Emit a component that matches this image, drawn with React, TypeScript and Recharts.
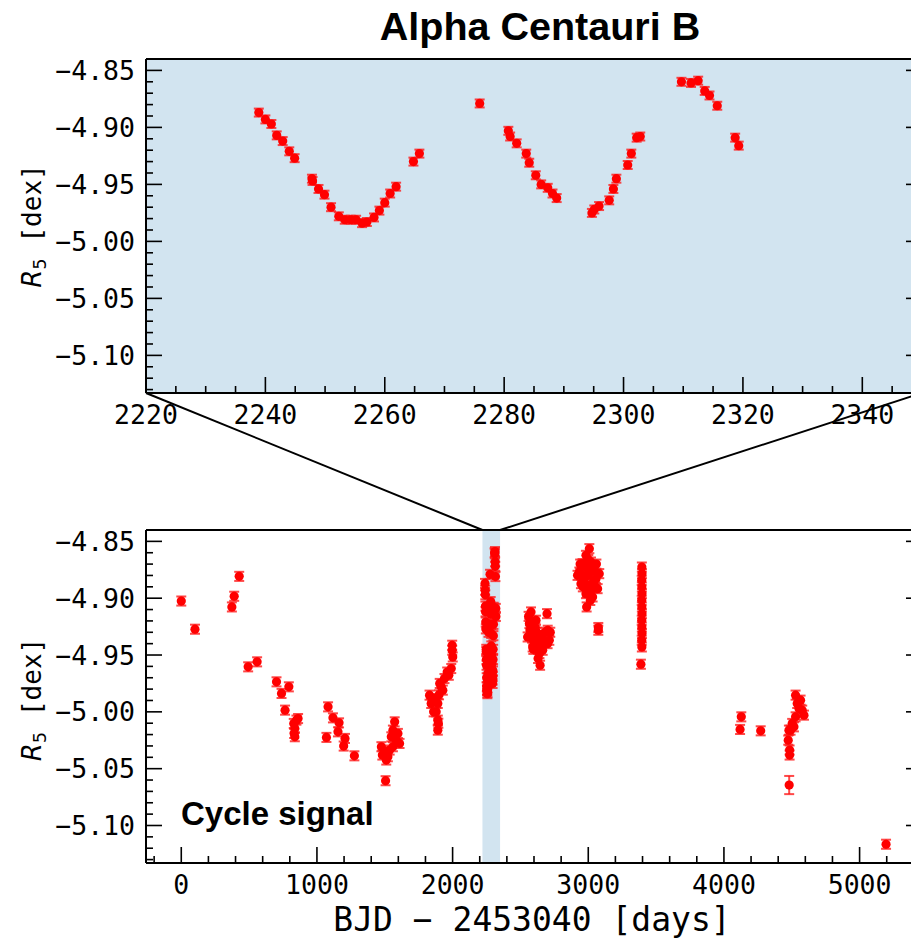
import {
  ErrorBar,
  ReferenceArea,
  ReferenceLine,
  Scatter,
  ScatterChart,
  XAxis,
  YAxis,
} from "recharts";

// Rotation season, zoomed in (BJD - 2453040, R5 index)
const ROT_T = [
  2238.9, 2240.0, 2241.0, 2241.9, 2242.9, 2244.0, 2244.9, 2247.8, 2247.9, 2248.9,
  2249.9, 2251.0, 2252.3, 2253.3, 2254.3, 2255.2, 2256.2, 2257.0, 2258.2, 2259.1,
  2260.0, 2260.9, 2261.9, 2264.8, 2265.8, 2275.9, 2280.7, 2281.0, 2282.1, 2283.7,
  2284.2, 2285.3, 2286.2, 2287.3, 2288.1, 2288.8, 2294.7, 2295.1, 2295.9, 2297.6,
  2298.3, 2298.8, 2300.7, 2301.3, 2302.2, 2302.8, 2309.7, 2311.3, 2312.5, 2313.6,
  2314.4, 2315.7, 2318.7, 2319.3,
];
const ROT_R = [
  -4.887, -4.893, -4.897, -4.907, -4.912, -4.921, -4.927, -4.945, -4.947, -4.954,
  -4.959, -4.970, -4.978, -4.981, -4.981, -4.981, -4.984, -4.983, -4.979, -4.973,
  -4.966, -4.958, -4.952, -4.930, -4.923, -4.879, -4.903, -4.908, -4.914, -4.923,
  -4.931, -4.942, -4.950, -4.953, -4.958, -4.962, -4.975, -4.972, -4.969, -4.964,
  -4.954, -4.945, -4.933, -4.923, -4.909, -4.908, -4.860, -4.861, -4.859, -4.868,
  -4.872, -4.881, -4.909, -4.916,
];
const ROT_ERR = 0.0035;

// Long-term series: [t, R5, sigma?]
const CYCLE_EARLY: number[][] = [
  [0, -4.9025], [101, -4.9273], [373, -4.9077], [390, -4.8983], [427, -4.8808],
  [493, -4.9604], [559, -4.956], [702, -4.9736], [739, -4.9838], [793, -4.978],
  [765, -4.9985], [829, -5.0102], [837, -5.0146], [832, -5.019], [837, -5.0219],
  [849, -5.0073], [861, -5.0059], [1082, -4.9956], [1070, -5.0225], [1118, -5.0053],
  [1163, -5.0097], [1155, -5.0176], [1207, -5.0234], [1197, -5.0301], [1276, -5.0387],
];
const CYCLE_MID: number[][] = [
  [1475, -5.0307], [1499, -5.0351], [1523, -5.0395], [1511, -5.0424], [1482, -5.038],
  [1536, -5.0336], [1560, -5.0307], [1506, -5.0606], [1573, -5.0088], [1560, -5.0161],
  [1597, -5.019], [1585, -5.0249], [1609, -5.0278], [1548, -5.022],
  [1830, -4.9853], [1842, -4.9926], [1850, -4.99], [1860, -5.0], [1867, -4.9883],
  [1879, -5.0], [1891, -4.9926], [1891, -5.0073], [1891, -5.0161], [1895, -5.01],
  [1900, -4.985], [1905, -4.975], [1916, -4.978], [1928, -4.9809], [1940, -4.9707],
  [1960, -4.965], [1972, -4.9678], [1990, -4.9619], [1997, -4.9458], [1997, -4.9414],
  [2001, -4.9517],
];
const CYCLE_PEAK: number[][] = [
  [2553, -4.9341], [2560, -4.916], [2566, -4.9223], [2570, -4.928], [2578, -4.9121],
  [2585, -4.935], [2590, -4.9429], [2595, -4.945], [2600, -4.938], [2603, -4.9282],
  [2610, -4.926], [2615, -4.9194], [2620, -4.93], [2625, -4.933], [2627, -4.9399],
  [2630, -4.953], [2635, -4.945], [2640, -4.9487], [2645, -4.959], [2650, -4.933],
  [2655, -4.94], [2664, -4.9458], [2676, -4.937], [2680, -4.93], [2696, -4.9136],
  [2700, -4.94], [2701, -4.9282], [2713, -4.937], [2720, -4.93],
  [2921, -4.8799], [2934, -4.877], [2940, -4.87], [2946, -4.8872], [2950, -4.88],
  [2958, -4.8696], [2960, -4.89], [2965, -4.885], [2971, -4.8814], [2975, -4.872],
  [2983, -4.8623], [2983, -4.896], [2988, -4.9077], [2990, -4.895], [2995, -4.874],
  [3000, -4.866], [3000, -4.88], [3008, -4.8564], [3008, -4.8887], [3015, -4.902],
  [3020, -4.8682], [3020, -4.893], [3025, -4.876], [3032, -4.8989], [3040, -4.885],
  [3045, -4.8755], [3050, -4.89], [3057, -4.8828], [3060, -4.87], [3069, -4.8916],
  [3074, -4.9258], [3074, -4.9282], [3081, -4.8784],
  [3395, -4.8726], [3396, -4.8784], [3394, -4.8843], [3395, -4.8901], [3396, -4.896],
  [3394, -4.9019], [3395, -4.9077], [3396, -4.9136], [3394, -4.9194], [3395, -4.9253],
  [3396, -4.9311], [3394, -4.937], [3395, -4.9429], [3388, -4.9581],
];
const CYCLE_LATE: number[][] = [
  [4119, -5.0155], [4128, -5.0044], [4271, -5.0167], [4474, -5.0249], [4479, -5.0161],
  [4481, -5.0644, 0.008], [4484, -5.0336], [4484, -5.038], [4491, -5.0161], [4503, -5.0102],
  [4516, -5.0132], [4528, -5.0044], [4528, -4.9853], [4540, -4.9926], [4553, -4.997],
  [4565, -4.9897], [4577, -4.9985], [4590, -5.0029], [5195, -5.1165],
];
const CYCLE_ERR = 0.004;

const ROT_DOMAIN = [2220, 2350];
const CYCLE_DOMAIN = [-260, 5460];
const Y_DOMAIN = [-5.133, -4.84];

const ROT_MAJOR = [2220, 2240, 2260, 2280, 2300, 2320, 2340];
const CYCLE_MAJOR = [0, 1000, 2000, 3000, 4000, 5000];
const Y_MAJOR = [-5.1, -5.05, -5.0, -4.95, -4.9, -4.85];

// layout (px); each frame axis takes 1px of margin, so margins are trimmed by 1
const CHART_W = 942;
const PLOT_LEFT = 146;
const PLOT_W = 776;
const TOP_Y = 59;
const TOP_H = 334;
const BOT_Y = 530;
const BOT_H = 333;
const MAJOR_LEN = 16;
const MINOR_LEN = 7;
const TICK_FONT = 26.5;

const RED = "#ff0000";
const SHADE = "#d2e4f0";
const MONO = "'DejaVu Sans Mono', monospace";
const SANS = "'Liberation Sans', Arial, Helvetica, sans-serif";

function steps(from: number, to: number, step: number) {
  const out: number[] = [];
  for (let v = from; v <= to + 1e-9; v += step) out.push(Math.round(v * 1000) / 1000);
  return out;
}

const rotTicks = steps(2220, 2350, 5);
const cycleTicks = steps(-200, 5400, 200);
const yTicks = steps(-5.13, -4.84, 0.01);

const isMajor = (v: number, majors: number[]) => majors.some((m) => Math.abs(m - v) < 1e-6);
const fmtY = (v: number) => `\u2212${Math.abs(v).toFixed(2)}`;

type Side = "bottom" | "top" | "left" | "right";

function tickRenderer(side: Side, majors: number[], fmt?: (v: number) => string) {
  return (props: any) => {
    const { x, y, payload } = props;
    const v = payload.value as number;
    const major = isMajor(v, majors);
    const len = major ? MAJOR_LEN : MINOR_LEN;
    let x2 = x;
    let y2 = y;
    if (side === "bottom") y2 = y - len;
    if (side === "top") y2 = y + len;
    if (side === "left") x2 = x + len;
    if (side === "right") x2 = x - len;
    return (
      <g>
        <line x1={x} y1={y} x2={x2} y2={y2} stroke="#000" strokeWidth={1.6} />
        {fmt && major && side === "bottom" && (
          <text x={x} y={y + 31} textAnchor="middle" fontFamily={MONO} fontSize={TICK_FONT} fill="#000">
            {fmt(v)}
          </text>
        )}
        {fmt && major && side === "left" && (
          <text x={x - 11} y={y} dy="0.36em" textAnchor="end" fontFamily={MONO} fontSize={TICK_FONT} fill="#000">
            {fmt(v)}
          </text>
        )}
      </g>
    );
  };
}

const dot = (p: any) => <circle cx={p.cx} cy={p.cy} r={4.6} fill={RED} />;

function YLabel({ cy }: { cy: number }) {
  return (
    <text transform={`translate(41, ${cy}) rotate(-90)`} textAnchor="middle" fontSize={26} fill="#000">
      <tspan fontFamily="'DejaVu Sans', sans-serif" fontStyle="italic">R</tspan>
      <tspan fontFamily="'DejaVu Sans', sans-serif" fontSize={18} dy={5}>5</tspan>
      <tspan fontFamily={MONO} dy={-5}>{" [dex]"}</tspan>
    </text>
  );
}

function frameAxes(xDomain: number[], xTicks: number[], xMajor: number[], xFmt: (v: number) => string) {
  const line = { stroke: "#000", strokeWidth: 2 };
  const common = { type: "number" as const, allowDataOverflow: true, interval: 0, tickSize: 0, tickMargin: 0, tickLine: false, axisLine: line };
  return [
    <XAxis key="xb" xAxisId="b" dataKey="t" orientation="bottom" domain={xDomain} ticks={xTicks} height={1}
      tick={tickRenderer("bottom", xMajor, xFmt)} {...common} />,
    <XAxis key="xt" xAxisId="t" orientation="top" domain={xDomain} ticks={xTicks} height={1}
      tick={tickRenderer("top", xMajor)} {...common} />,
    <YAxis key="yl" yAxisId="l" dataKey="r" orientation="left" domain={Y_DOMAIN} ticks={yTicks} width={1}
      tick={tickRenderer("left", Y_MAJOR, fmtY)} {...common} />,
    <YAxis key="yr" yAxisId="r" orientation="right" domain={Y_DOMAIN} ticks={yTicks} width={1}
      tick={tickRenderer("right", Y_MAJOR)} {...common} />,
  ];
}

const errorBar = (
  <ErrorBar dataKey="err" direction="y" width={5} stroke="#ff1a1a" strokeOpacity={0.8} strokeWidth={2} isAnimationActive={false} />
);

export default function App() {
  const rotData = ROT_T.map((t, i) => ({ t, r: ROT_R[i], err: ROT_ERR }));
  const cycleData = [...CYCLE_EARLY, ...CYCLE_MID, ...CYCLE_PEAK, ...CYCLE_LATE]
    .map(([t, r, e]) => ({ t, r, err: e ?? CYCLE_ERR }))
    .concat(rotData.map((d) => ({ ...d, err: CYCLE_ERR })));

  // the zoom connector ends at the bottom corners of the upper panel,
  // expressed in the lower panel's data units
  const ySpan = Y_DOMAIN[1] - Y_DOMAIN[0];
  const yAbove = Y_DOMAIN[1] + ((BOT_Y - (TOP_Y + TOP_H)) / BOT_H) * ySpan;

  const topHeight = 440;
  const botHeight = 938;
  const rightMargin = CHART_W - PLOT_LEFT - PLOT_W - 1;

  return (
    <div
      style={{
        position: "fixed",
        left: 0,
        top: 0,
        width: 911,
        height: 938,
        overflow: "hidden",
        background: "#fff",
      }}
    >
      <div style={{ position: "absolute", left: 0, top: 0 }}>
        <ScatterChart
          width={CHART_W}
          height={topHeight}
          margin={{ top: TOP_Y - 1, left: PLOT_LEFT - 1, right: rightMargin, bottom: topHeight - TOP_Y - TOP_H - 1 }}
        >
          <ReferenceArea
            xAxisId="b"
            yAxisId="l"
            x1={ROT_DOMAIN[0]}
            x2={ROT_DOMAIN[1]}
            y1={Y_DOMAIN[0]}
            y2={Y_DOMAIN[1]}
            fill={SHADE}
            fillOpacity={1}
            stroke="none"
          />
          {frameAxes(ROT_DOMAIN, rotTicks, ROT_MAJOR, (v) => String(v))}
          <Scatter xAxisId="b" yAxisId="l" data={rotData} shape={dot} isAnimationActive={false}>
            {errorBar}
          </Scatter>
          <text x={540} y={40} textAnchor="middle" fontFamily={SANS} fontWeight="bold" fontSize={39.5} fill="#000">
            Alpha Centauri B
          </text>
          <text x={181} y={340} fontFamily={SANS} fontWeight="bold" fontSize={33} fill="#000">
            Rotation signal
          </text>
          <YLabel cy={TOP_Y + TOP_H / 2} />
        </ScatterChart>
      </div>
      <div style={{ position: "absolute", left: 0, top: 0 }}>
        <ScatterChart
          width={CHART_W}
          height={botHeight}
          margin={{ top: BOT_Y - 1, left: PLOT_LEFT - 1, right: rightMargin, bottom: botHeight - BOT_Y - BOT_H - 1 }}
        >
          <ReferenceArea
            xAxisId="b"
            yAxisId="l"
            x1={ROT_DOMAIN[0]}
            x2={ROT_DOMAIN[1]}
            y1={Y_DOMAIN[0]}
            y2={Y_DOMAIN[1]}
            fill={SHADE}
            fillOpacity={1}
            stroke="none"
          />
          <ReferenceLine
            xAxisId="b"
            yAxisId="l"
            ifOverflow="visible"
            segment={[
              { x: ROT_DOMAIN[0], y: Y_DOMAIN[1] },
              { x: CYCLE_DOMAIN[0], y: yAbove },
            ]}
            stroke="#000"
            strokeWidth={2}
          />
          <ReferenceLine
            xAxisId="b"
            yAxisId="l"
            ifOverflow="visible"
            segment={[
              { x: ROT_DOMAIN[1], y: Y_DOMAIN[1] },
              { x: CYCLE_DOMAIN[1], y: yAbove },
            ]}
            stroke="#000"
            strokeWidth={2}
          />
          {frameAxes(CYCLE_DOMAIN, cycleTicks, CYCLE_MAJOR, (v) => String(v))}
          <Scatter xAxisId="b" yAxisId="l" data={cycleData} shape={dot} isAnimationActive={false}>
            {errorBar}
          </Scatter>
          <text x={181} y={825} fontFamily={SANS} fontWeight="bold" fontSize={33} fill="#000">
            Cycle signal
          </text>
          <YLabel cy={BOT_Y + BOT_H / 2 + 3} />
          <text x={532} y={931} textAnchor="middle" fontFamily={MONO} fontSize={33} fill="#000">
            {"BJD \u2212 2453040 [days]"}
          </text>
        </ScatterChart>
      </div>
    </div>
  );
}
